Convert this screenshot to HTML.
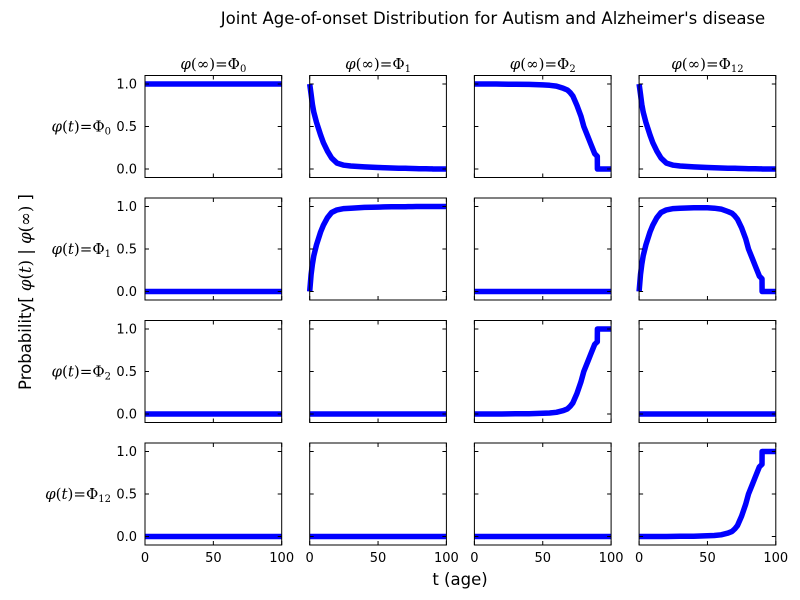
<!DOCTYPE html>
<html><head><meta charset="utf-8"><style>
body{margin:0;background:#fff}
svg{display:block}
text{font-family:"DejaVu Sans","Liberation Sans",sans-serif;fill:#000}
.m{font-family:"DejaVu Serif","Liberation Serif",serif}
</style></head><body>
<svg id="c" width="800" height="600"></svg>
<script>
const ages = [0,1,2,3,5,8,10,13,16,20,25,30,40,50,55,60,65,68,70,72,75,78,80,83,85,88,89.9,90,90.5,95,100];
const flat0 = ages.map(()=>0);
const flat1 = ages.map(()=>1);
const decay = [1.0,0.88,0.76,0.67,0.55,0.40,0.31,0.21,0.13,0.07,0.045,0.035,0.025,0.018,0.015,0.012,0.01,0.009,0.008,0.007,0.006,0.005,0.004,0.003,0.002,0.001,0.001,0.0,0.0,0.0,0.0];
const rise = [0.0,0.2,0.32,0.42,0.55,0.70,0.78,0.87,0.93,0.96,0.975,0.98,0.99,0.993,0.995,0.996,0.997,0.998,0.998,0.999,0.999,1.0,1.0,1.0,1.0,1.0,1.0,1.0,1.0,1.0,1.0];
const survive = [1,1,1,1,1,1,1,1,1,0.999,0.998,0.997,0.995,0.99,0.985,0.975,0.95,0.93,0.9,0.86,0.75,0.62,0.5,0.38,0.3,0.18,0.15,0.0,0.0,0.0,0.0];
const onset = [0,0,0,0,0,0,0,0,0,0,0.001,0.002,0.004,0.008,0.012,0.02,0.04,0.06,0.09,0.13,0.24,0.38,0.5,0.62,0.7,0.82,0.85,1.0,1.0,1.0,1.0];
const both = [0.0,0.2,0.32,0.42,0.55,0.70,0.78,0.87,0.93,0.96,0.975,0.98,0.985,0.985,0.98,0.97,0.94,0.92,0.89,0.85,0.75,0.62,0.5,0.38,0.3,0.18,0.15,0.0,0.0,0.0,0.0];
const grid = [
 [flat1, decay, survive, decay],
 [flat0, rise, flat0, both],
 [flat0, flat0, onset, flat0],
 [flat0, flat0, flat0, onset]];
const xTicks=[0,50,100], yTicks=[0,0.5,1.0], yTickLabels=["0.0","0.5","1.0"];
const colTitles=["0","1","2","12"];
const NS="http://www.w3.org/2000/svg", svg=document.getElementById('c');
function el(t,a,p){const e=document.createElementNS(NS,t);for(const k in a)e.setAttribute(k,a[k]);(p||svg).appendChild(e);return e;}
const X0=145,DX=164.7,W=136.7,Y0=75.5,DY=122.5,H=102;
function sx(c,v){return X0+c*DX+v/100*W;}
function sy(r,v){return Y0+r*DY+(1.1-v)/1.2*H;}
for(let r=0;r<4;r++)for(let c=0;c<4;c++){
  const g=el('g',{});
  
  
  const d=grid[r][c];
  const pts=ages.map((a,i)=>sx(c,a).toFixed(1)+','+sy(r,d[i]).toFixed(1)).join(' ');
  const pl=el('polyline',{points:pts,fill:'none',stroke:'#0000ff','stroke-width':5.5,'stroke-linejoin':'round'},g);
  
  
  const L=X0+c*DX,T=Y0+r*DY;
  el('rect',{x:L,y:T,width:W,height:H,fill:'none',stroke:'#000','stroke-width':1},g);
  xTicks.forEach(v=>{const x=sx(c,v);
    el('line',{x1:x,x2:x,y1:T+H,y2:T+H-4,stroke:'#000'},g);
    el('line',{x1:x,x2:x,y1:T,y2:T+4,stroke:'#000'},g);
    if(r==3){const t=el('text',{x:x,y:T+H+17,'text-anchor':'middle','font-size':13},g);t.textContent=v;
      }
  });
  yTicks.forEach((v,i)=>{const y=sy(r,v);
    el('line',{x1:L,x2:L+4,y1:y,y2:y,stroke:'#000'},g);
    el('line',{x1:L+W,x2:L+W-4,y1:y,y2:y,stroke:'#000'},g);
    if(c==0){const t=el('text',{x:L-8,y:y+4.5,'text-anchor':'end','font-size':13},g);t.textContent=yTickLabels[i];
      }
  });
}
colTitles.forEach((s,c)=>{
  const t=el('text',{x:sx(c,50),y:69,'text-anchor':'middle','font-size':15,class:'m'});
  t.innerHTML='<tspan font-style="italic">φ</tspan>(∞)=Φ<tspan font-size="10" dy="3">'+s+'</tspan>';
  
  const r=el('text',{x:111,y:sy(c,0.5)+5,'text-anchor':'end','font-size':15,class:'m'});
  r.innerHTML='<tspan font-style="italic">φ</tspan>(<tspan font-style="italic">t</tspan>)=Φ<tspan font-size="10" dy="3">'+s+'</tspan>';
  
});
let t=el('text',{x:493,y:24,'text-anchor':'middle','font-size':16.5});
t.textContent="Joint Age-of-onset Distribution for Autism and Alzheimer's disease";

t=el('text',{x:460,y:585,'text-anchor':'middle','font-size':16.5});
t.textContent="t (age)";

t=el('text',{x:0,y:0,'text-anchor':'middle','font-size':16.5,transform:'translate(31,292) rotate(-90)'});
t.innerHTML='Probability[ <tspan class="m" font-style="italic">φ</tspan><tspan class="m">(</tspan><tspan class="m" font-style="italic">t</tspan><tspan class="m">)</tspan> | <tspan class="m" font-style="italic">φ</tspan><tspan class="m">(∞)</tspan> ]';

</script>
</body></html>
